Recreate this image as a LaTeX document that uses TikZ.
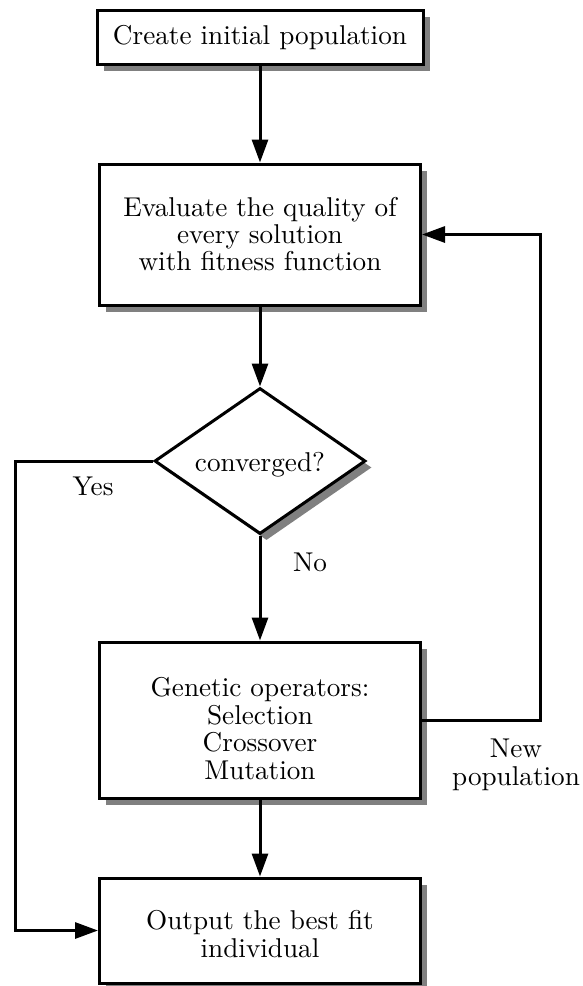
\documentclass[tikz,border=0pt]{standalone}
\usetikzlibrary{arrows.meta,shapes.geometric,shadows}
\usepackage{graphicx}
\newcommand\tx[2]{\raisebox{0pt}[\dimexpr\height+#1pt\relax][\depth]{\scalebox{2.72}{\renewcommand\arraystretch{0.84}\begin{tabular}{@{}c@{}}#2\end{tabular}}}}
\begin{document}
\begin{tikzpicture}[x=1pt,y=1pt,
 box/.style={draw, line width=3pt, fill=white, rectangle, inner sep=0pt,
   drop shadow={shadow xshift=6.5pt, shadow yshift=-6.5pt, fill=black!50, opacity=1}},
 dia/.style={draw, line width=3pt, fill=white, diamond, inner sep=0pt, aspect=1.45,
   drop shadow={shadow xshift=6.5pt, shadow yshift=-6.5pt, fill=black!50, opacity=1}},
 arr/.style={line width=3pt, -{Triangle[length=23pt,width=16pt]}},
 lbl/.style={inner sep=0pt}]
\useasboundingbox (0,0) rectangle (582,-986);
\node[box, minimum width=326pt, minimum height=54pt] (b1) at (260,-37) {\tx{5}{Create initial population}};
\node[box, minimum width=321pt, minimum height=141pt] (b2) at (260,-234.5) {\tx{7}{Evaluate the quality of\\every solution\\with fitness function}};
\node[dia, minimum width=211pt, minimum height=146pt] (d) at (260,-461) {\tx{11}{converged?}};
\node[box, minimum width=321pt, minimum height=156pt] (b3) at (260,-720) {\tx{25}{Genetic operators:\\Selection\\Crossover\\Mutation}};
\node[box, minimum width=321pt, minimum height=105pt] (b4) at (260,-930.5) {\tx{15}{Output the best fit\\individual}};
\coordinate (fr) at (540,-720);
\coordinate (fl) at (15,-461);
\draw[arr] (b1) -- (b2);
\draw[arr] (b2) -- (d);
\draw[arr] (d) -- (b3);
\draw[arr] (b3) -- (b4);
\draw[arr] (b3.east) -- (fr) |- (b2.east);
\draw[arr] (d.west) -- (fl) |- (b4.west);
\node[lbl] (yes) at (93,-490.5) {\tx{0}{Yes}};
\node[lbl] (no) at (310,-566.5) {\tx{0}{No}};
\node[lbl] (np) at (516,-766) {\tx{0}{New\\population}};
\end{tikzpicture}
\end{document}
